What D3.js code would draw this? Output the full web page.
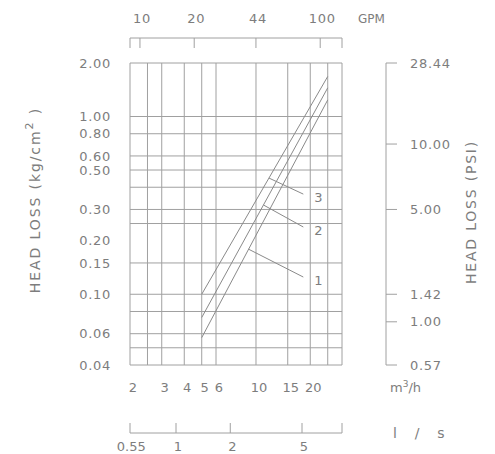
<!DOCTYPE html>
<html>
<head>
<meta charset="utf-8">
<script src="https://cdn.jsdelivr.net/npm/d3@7"></script>
<style>
  body { margin: 0; background: #fff; }
  text { font-family: "DejaVu Sans", sans-serif; fill: #7d7d7d; }
</style>
</head>
<body>
<svg id="chart"></svg>
<script>
// flow grid (m3/h) and labels
var flowGrid = [2, 2.5, 3, 4, 5, 6, 10, 15, 20, 25, 30];
var flowLabels = [2, 3, 4, 5, 6, 10, 15, 20];
// head loss grid (kg/cm2) and labels
var lossGrid = [2, 1, 0.8, 0.6, 0.5, 0.4, 0.3, 0.25, 0.15, 0.1, 0.08, 0.06, 0.05, 0.04];
var lossLabels = [2, 1, 0.8, 0.6, 0.5, 0.3, 0.2, 0.15, 0.1, 0.06, 0.04];
// secondary scales
var gpmTicks = [10, 20, 44, 100];
var lpsTicks = [0.55, 1, 2, 5];
var psiLabels = ["28.44", "10.00", "5.00", "1.42", "1.00", "0.57"];
var psiAtKg = [2.00, 0.70, 0.30, 0.10, 0.07, 0.04];   // where each PSI label sits on the kg/cm2 scale

// the three curves: flow (m3/h) vs head loss (kg/cm2)
var curveFlow = [5, 25];
var curve1 = [0.057, 1.24];
var curve2 = [0.074, 1.45];
var curve3 = [0.100, 1.68];
var curveNames = ["1", "2", "3"];
// callouts: start flow on its curve, end point (flow, loss)
var calloutStart = [9.1, 11.0, 11.8];
var calloutEndFlow = [18.3, 18.3, 18.3];
var calloutEndLoss = [0.125, 0.239, 0.366];

var svgWidth = 495, svgHeight = 454;
var margin = { top: 63, right: 153, bottom: 89, left: 130 };
var width = svgWidth - margin.left - margin.right;
var height = svgHeight - margin.top - margin.bottom;

var svg = d3.select("#chart")
    .attr("width", svgWidth)
    .attr("height", svgHeight);

var g = svg.append("g")
    .attr("transform", "translate(" + margin.left + "," + margin.top + ")");

var x = d3.scaleLog().domain([2, 30]).range([0, width]);
var y = d3.scaleLog().domain([0.04, 2]).range([height, 0]);

var gridColor = "#a0a0a0";

// grid
g.selectAll(".vgrid").data(flowGrid).enter().append("line")
    .attr("x1", d => x(d)).attr("x2", d => x(d))
    .attr("y1", 0).attr("y2", height)
    .attr("stroke", gridColor).attr("stroke-width", 1);

g.selectAll(".hgrid").data(lossGrid).enter().append("line")
    .attr("x1", 0).attr("x2", width)
    .attr("y1", d => y(d)).attr("y2", d => y(d))
    .attr("stroke", gridColor).attr("stroke-width", 1);

// left labels
g.selectAll(".ylab").data(lossLabels).enter().append("text")
    .attr("x", -19)
    .attr("y", d => y(d))
    .attr("dy", "0.36em")
    .attr("text-anchor", "end")
    .style("font-size", "13px")
    .style("letter-spacing", "0.7px")
    .text(d => d3.format(".2f")(d));

// bottom labels
g.selectAll(".xlab").data(flowLabels).enter().append("text")
    .attr("x", d => x(d) + 3)
    .attr("y", height + 27)
    .attr("text-anchor", "middle")
    .style("font-size", "13px")
    .text(d => d);

var unit = g.append("text")
    .attr("x", 260).attr("y", height + 27)
    .style("font-size", "13px");
unit.append("tspan").text("m");
unit.append("tspan").attr("dy", -5).style("font-size", "9px").text("3");
unit.append("tspan").attr("dy", 5).text("/h");

// top GPM bracket
var topY = -25;
g.append("line").attr("x1", 0).attr("x2", width).attr("y1", topY).attr("y2", topY)
    .attr("stroke", gridColor);
g.selectAll(".gpmtick").data([0, width].concat(gpmTicks.map(d => x(d / 4.403))))
  .enter().append("line")
    .attr("x1", d => d).attr("x2", d => d)
    .attr("y1", topY).attr("y2", topY + 10)
    .attr("stroke", gridColor);
g.selectAll(".gpmlab").data(gpmTicks).enter().append("text")
    .attr("x", d => x(d / 4.403) + 2)
    .attr("y", -40)
    .attr("text-anchor", "middle")
    .style("font-size", "13px")
    .style("letter-spacing", "0.7px")
    .text(d => d);
g.append("text").attr("x", 228).attr("y", -40)
    .style("font-size", "12px").text("GPM");

// bottom l/s bracket
var botY = height + 68;
g.append("line").attr("x1", 0).attr("x2", width).attr("y1", botY).attr("y2", botY)
    .attr("stroke", gridColor);
g.selectAll(".lpstick").data([0, width].concat(lpsTicks.slice(1).map(d => x(d * 3.6))))
  .enter().append("line")
    .attr("x1", d => d).attr("x2", d => d)
    .attr("y1", botY).attr("y2", botY - 10)
    .attr("stroke", gridColor);
g.selectAll(".lpslab").data(lpsTicks).enter().append("text")
    .attr("x", d => x(d * 3.6) + 2)
    .attr("y", height + 86)
    .attr("text-anchor", "middle")
    .style("font-size", "13px")
    .text(d => d);
g.append("text").attr("x", 263).attr("y", height + 73)
    .style("font-size", "14px")
    .attr("xml:space", "preserve")
    .text("l    /    s");

// right PSI axis
var rx = 256;
g.append("line").attr("x1", rx).attr("x2", rx).attr("y1", 0).attr("y2", height)
    .attr("stroke", gridColor);
g.selectAll(".psitick").data(psiAtKg).enter().append("line")
    .attr("x1", rx).attr("x2", rx + 11)
    .attr("y1", d => y(d)).attr("y2", d => y(d))
    .attr("stroke", gridColor);
g.selectAll(".psilab").data(psiLabels).enter().append("text")
    .attr("x", rx + 24)
    .attr("y", (d, i) => y(psiAtKg[i]))
    .attr("dy", "0.36em")
    .style("font-size", "13px")
    .style("letter-spacing", "0.7px")
    .text(d => d);

// axis titles
var lt = svg.append("text")
    .attr("transform", "translate(40,200) rotate(-90)")
    .attr("text-anchor", "middle")
    .style("font-size", "14px")
    .style("letter-spacing", "1.9px");
lt.append("tspan").text("HEAD LOSS (kg/cm");
lt.append("tspan").attr("dy", -7).style("font-size", "11px").text("2");
lt.append("tspan").attr("dy", 7).text(" )");

svg.append("text")
    .attr("transform", "translate(476,212) rotate(-90)")
    .attr("text-anchor", "middle")
    .style("font-size", "14px")
    .style("letter-spacing", "1.8px")
    .text("HEAD LOSS (PSI)");

// curves
var line = d3.line().x(d => x(d[0])).y(d => y(d[1]));
[curve1, curve2, curve3].forEach(function(c) {
    g.append("path")
        .datum(curveFlow.map((f, i) => [f, c[i]]))
        .attr("d", line)
        .attr("fill", "none")
        .attr("stroke", "#8a8a8a")
        .attr("stroke-width", 1);
});

// callouts
[curve1, curve2, curve3].forEach(function(c, i) {
    // loss at the start flow, on the straight log-log curve
    var s = d3.scaleLog().domain(curveFlow).range(c.map(v => Math.log(v)));
    var startLoss = Math.exp(s(calloutStart[i]));
    g.append("line")
        .attr("x1", x(calloutStart[i])).attr("y1", y(startLoss))
        .attr("x2", x(calloutEndFlow[i])).attr("y2", y(calloutEndLoss[i]))
        .attr("stroke", "#8a8a8a");
    g.append("text")
        .attr("x", x(calloutEndFlow[i]) + 11)
        .attr("y", y(calloutEndLoss[i]) + 3)
        .attr("dy", "0.36em")
        .style("font-size", "13px")
        .text(curveNames[i]);
});
</script>
</body>
</html>
